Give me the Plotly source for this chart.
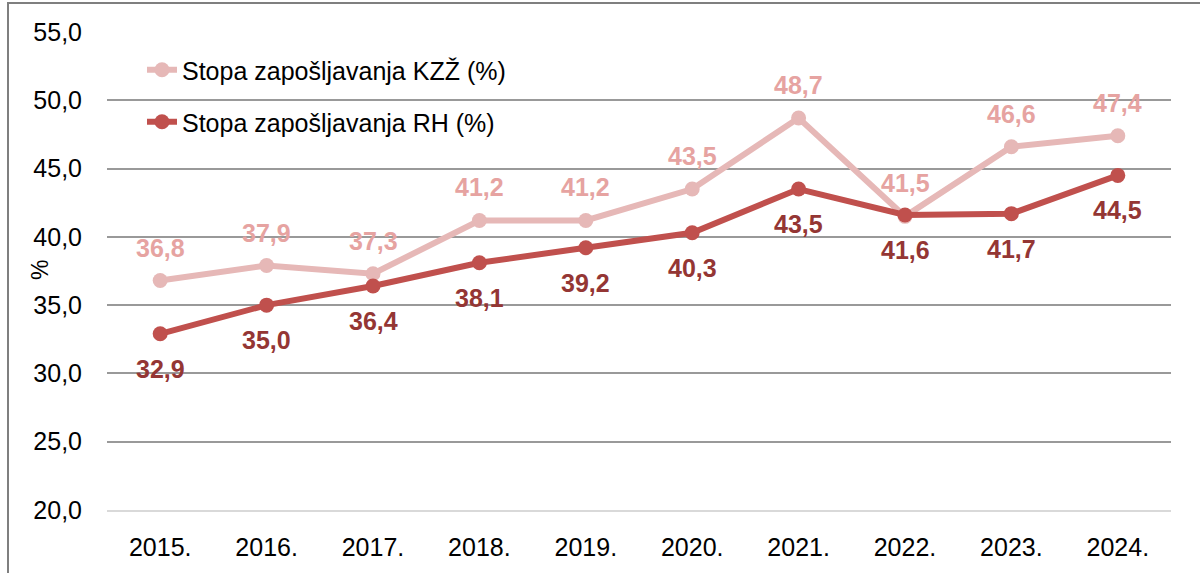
import plotly.graph_objects as go

years = ["2015.", "2016.", "2017.", "2018.", "2019.", "2020.", "2021.", "2022.", "2023.", "2024."]
kzz = [36.8, 37.9, 37.3, 41.2, 41.2, 43.5, 48.7, 41.5, 46.6, 47.4]
rh = [32.9, 35.0, 36.4, 38.1, 39.2, 40.3, 43.5, 41.6, 41.7, 44.5]
y_ticks = [20, 25, 30, 35, 40, 45, 50, 55]
y_tick_labels = ["20,0", "25,0", "30,0", "35,0", "40,0", "45,0", "50,0", "55,0"]

def fmt(v):
    return f"{v:.1f}".replace(".", ",")

FONT = "Liberation Sans, Arial"
W, H = 1200, 573
ml, mr, mt, mb = 107, 29, 32, 63
pw, ph = W - ml - mr, H - mt - mb
xpos = list(range(len(years)))

fig = go.Figure()
fig.add_trace(go.Scatter(
    x=xpos, y=kzz, name="Stopa zapošljavanja KZŽ (%)",
    mode="lines+markers",
    line=dict(color="#E6B8B7", width=6),
    marker=dict(color="#E6B8B7", size=15),
    legend="legend", hoverinfo="skip",
))
fig.add_trace(go.Scatter(
    x=xpos, y=rh, name="Stopa zapošljavanja RH (%)",
    mode="lines+markers",
    line=dict(color="#C0504D", width=6),
    marker=dict(color="#C0504D", size=15),
    legend="legend2", hoverinfo="skip",
))

annotations = []
for xv, v in zip(xpos, kzz):
    annotations.append(dict(x=xv, y=v, xref="x", yref="y", text=fmt(v), showarrow=False,
                            yshift=33, font=dict(family=FONT, size=25, color="#E6A3A1", weight="bold")))
for xv, v in zip(xpos, rh):
    annotations.append(dict(x=xv, y=v, xref="x", yref="y", text=fmt(v), showarrow=False,
                            yshift=-35, font=dict(family=FONT, size=25, color="#943634", weight="bold")))
annotations.append(dict(x=(25 - ml) / pw, y=1 - (270 - mt) / ph, xref="paper", yref="paper",
                        text="%", textangle=-90, showarrow=False,
                        font=dict(family=FONT, size=23, color="black")))

leg_common = dict(xanchor="left", yanchor="middle", bgcolor="rgba(0,0,0,0)",
                  font=dict(family=FONT, size=25, color="black"), itemwidth=30,
                  x=(142 - ml) / pw)
fig.update_layout(
    width=W, height=H,
    margin=dict(l=ml, r=mr, t=mt, b=mb, autoexpand=False),
    paper_bgcolor="white", plot_bgcolor="white",
    font=dict(family=FONT, size=25, color="black"),
    showlegend=True,
    legend=dict(y=1 - (70 - mt) / ph, **leg_common),
    legend2=dict(y=1 - (122 - mt) / ph, **leg_common),
    xaxis=dict(range=[-0.5, len(years) - 0.5], tickvals=xpos, ticktext=years,
               showgrid=False, zeroline=False, showline=True, linecolor="#D9D9D9", linewidth=2,
               ticks="", tickfont=dict(size=25), ticklabelstandoff=14, automargin=False),
    yaxis=dict(range=[20, 55], tickvals=y_ticks, ticktext=y_tick_labels,
               showgrid=True, gridcolor="#999999", gridwidth=1.5, zeroline=False,
               showline=False, ticks="", tickfont=dict(size=25), ticklabelstandoff=24,
               automargin=False),
    annotations=annotations,
    shapes=[dict(type="rect", xref="paper", yref="paper",
                 x0=(8 - ml) / pw, x1=(1260 - ml) / pw,
                 y0=-(100) / ph, y1=1 + (mt - 3) / ph,
                 line=dict(color="#7F7F7F", width=2), fillcolor="rgba(0,0,0,0)", layer="below")],
)
fig.write_html("out.html", config={"displayModeBar": False},
               post_script="document.body.style.margin='0';")
